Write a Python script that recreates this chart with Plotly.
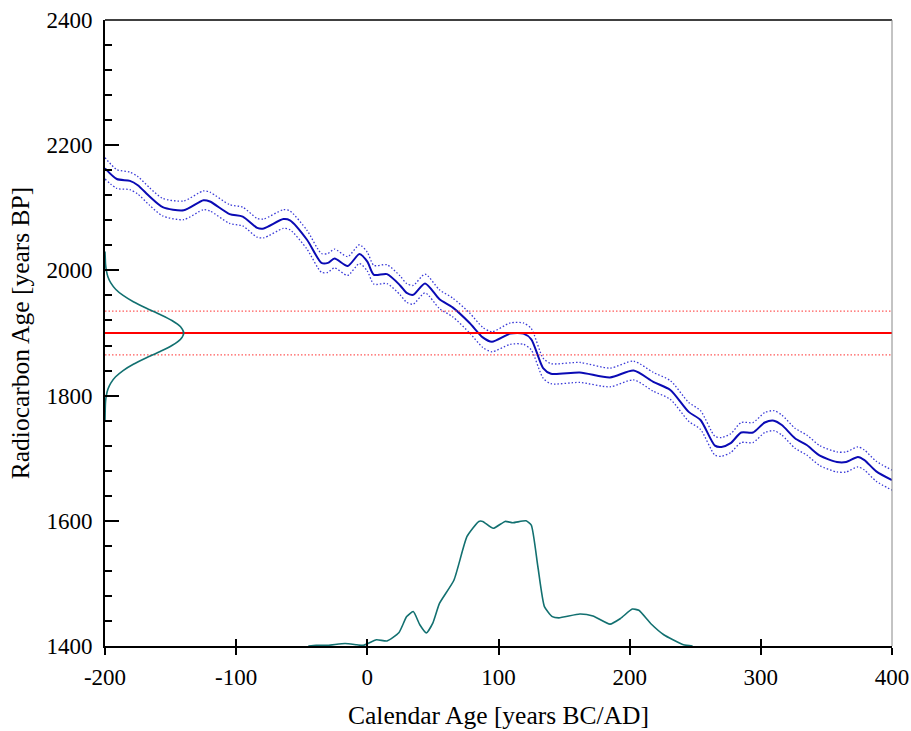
import plotly.graph_objects as go

# Calibration curve (calendar year, radiocarbon age, 1-sigma)
curve_x = [-200, -191, -181, -175, -166, -156, -140, -125, -120, -105, -95, -84, -79, -64, -59,
           -46, -35, -30, -25, -15, -6, 0, 5, 15, 25, 30, 35, 44, 55, 65, 78, 88, 95, 109, 119,
           125, 134, 140, 162, 185, 203, 218, 231, 245, 254, 265, 270, 277, 285, 294, 303, 310,
           316, 326, 335, 345, 358, 365, 374, 379, 388, 400]
curve_y = [2163, 2146, 2143, 2136, 2118, 2101, 2096, 2112, 2110, 2090, 2086, 2068, 2067, 2082, 2080,
           2049, 2012, 2012, 2019, 2007, 2026, 2014, 1993, 1994, 1976, 1964, 1961, 1979, 1954, 1941,
           1916, 1893, 1886, 1899, 1899, 1890, 1844, 1835, 1837, 1829, 1840, 1822, 1809, 1774, 1761,
           1720, 1718, 1724, 1741, 1741, 1757, 1760, 1753, 1732, 1721, 1704, 1694, 1694, 1702, 1697,
           1679, 1665]
curve_sigma = [17, 15, 14, 14, 14, 14, 15, 15, 15, 15, 15, 15, 15, 15, 15,
               15, 15, 15, 15, 15, 15, 15, 15, 15, 15, 15, 15, 15, 15, 15,
               16, 16, 16, 17, 17, 17, 16, 16, 16, 15, 15, 15, 15, 15, 15,
               15, 15, 15, 16, 16, 16, 16, 16, 16, 16, 16, 16, 16, 16, 16,
               16, 16]

# Measured radiocarbon date
c14_age = 1900
c14_err = 35

# Measured date probability (plotted along the y axis), width in calendar years
gauss_y = [1760, 1770, 1780, 1790, 1800, 1810, 1820, 1830, 1840, 1850, 1860, 1870, 1880, 1890,
           1900, 1910, 1920, 1930, 1940, 1950, 1960, 1970, 1980, 1990, 2000, 2010, 2020, 2030]
gauss_w = [0.0, 0.1, 0.2, 0.4, 1.0, 2.2, 4.4, 8.1, 13.8, 21.6, 31.2, 41.6, 51.0, 57.6,
           60.0, 57.6, 51.0, 41.6, 31.2, 21.6, 13.8, 8.1, 4.4, 2.2, 1.0, 0.4, 0.2, 0.0]

# Calibrated probability distribution (calendar year, height in radiocarbon years above base)
cal_x = [-45, -39, -30, -17, -8, -3, 7, 15, 24, 30, 35, 40, 45, 50, 55, 66, 76, 85, 88, 96, 105,
         111, 121, 125, 130, 135, 141, 146, 162, 172, 185, 193, 202, 207, 216, 226, 233, 241, 248]
cal_h = [0, 1, 1, 4, 2, 1, 10, 8, 21, 47, 55, 34, 21, 37, 68, 105, 175, 199, 199, 188, 199,
         197, 200, 193, 127, 63, 47, 45, 51, 48, 35, 44, 59, 57, 36, 18, 10, 2, 0]
cal_base = 1400

# Axis ticks
x_ticks = [-200, -100, 0, 100, 200, 300, 400]
x_tick_labels = ["-200", "-100", "0", "100", "200", "300", "400"]
y_ticks = [1400, 1600, 1800, 2000, 2200, 2400]
y_tick_labels = ["1400", "1600", "1800", "2000", "2200", "2400"]

x_range = [-200, 400]
y_range = [1400, 2400]

BLUE = "#0a0ab4"
BLUE_LIGHT = "#3a3ad8"
TEAL = "#127070"
RED = "#ff0000"
RED_LIGHT = "#ff5a5a"
FONT = "Liberation Serif"
FINE_DOT = "1.5px,2px"

fig = go.Figure()

upper = [y + s for y, s in zip(curve_y, curve_sigma)]
lower = [y - s for y, s in zip(curve_y, curve_sigma)]

fig.add_trace(go.Scatter(x=curve_x, y=upper, mode="lines",
                         line=dict(color=BLUE_LIGHT, width=1.3, dash=FINE_DOT, shape="spline", smoothing=0.7),
                         hoverinfo="skip", showlegend=False))
fig.add_trace(go.Scatter(x=curve_x, y=lower, mode="lines",
                         line=dict(color=BLUE_LIGHT, width=1.3, dash=FINE_DOT, shape="spline", smoothing=0.7),
                         hoverinfo="skip", showlegend=False))
fig.add_trace(go.Scatter(x=curve_x, y=curve_y, mode="lines",
                         line=dict(color=BLUE, width=2, shape="spline", smoothing=0.7),
                         showlegend=False))

# measured date lines
fig.add_trace(go.Scatter(x=x_range, y=[c14_age + c14_err] * 2, mode="lines",
                         line=dict(color=RED_LIGHT, width=1.3, dash=FINE_DOT), showlegend=False))
fig.add_trace(go.Scatter(x=x_range, y=[c14_age - c14_err] * 2, mode="lines",
                         line=dict(color=RED_LIGHT, width=1.3, dash=FINE_DOT), showlegend=False))
fig.add_trace(go.Scatter(x=x_range, y=[c14_age] * 2, mode="lines",
                         line=dict(color=RED, width=2), showlegend=False))

# gaussian on y axis
fig.add_trace(go.Scatter(x=[x_range[0] + w for w in gauss_w], y=gauss_y, mode="lines",
                         line=dict(color=TEAL, width=1.6, shape="spline", smoothing=0.8),
                         showlegend=False))

# calibrated distribution
fig.add_trace(go.Scatter(x=cal_x, y=[cal_base + h for h in cal_h], mode="lines",
                         line=dict(color=TEAL, width=1.6, shape="spline", smoothing=0.5),
                         showlegend=False))

# invisible trace for the overlay axis (inside x ticks)
fig.add_trace(go.Scatter(x=x_range, y=y_range, mode="markers", marker=dict(opacity=0),
                         xaxis="x2", hoverinfo="skip", showlegend=False))

fig.update_layout(
    width=911, height=731,
    margin=dict(l=105, r=19, t=20, b=85),
    paper_bgcolor="white", plot_bgcolor="white",
    font=dict(family=FONT, size=23, color="black"),
    xaxis=dict(range=x_range, tickvals=x_ticks, ticktext=x_tick_labels, automargin=False,
               showgrid=False, zeroline=False,
               showline=True, linecolor="black", linewidth=2,
               ticks="outside", ticklen=7, tickwidth=2, tickcolor="black",
               ticklabelstandoff=2,
               title=dict(text="Calendar Age [years BC/AD]", font=dict(size=25.5), standoff=18)),
    xaxis2=dict(range=x_range, tickvals=x_ticks, overlaying="x", side="bottom", automargin=False,
                showgrid=False, zeroline=False, showline=False, showticklabels=False,
                ticks="inside", ticklen=7, tickwidth=2, tickcolor="black"),
    yaxis=dict(range=y_range, tickvals=y_ticks, ticktext=y_tick_labels, automargin=False,
               showgrid=False, zeroline=False,
               showline=True, linecolor="black", linewidth=2,
               ticks="inside", ticklen=14, tickwidth=2, tickcolor="black",
               minor=dict(dtick=40, tick0=1400, ticks="inside", ticklen=7, tickwidth=2,
                          tickcolor="black"),
               ticklabelstandoff=6,
               title=dict(text="Radiocarbon Age [years BP]", font=dict(size=25.5), standoff=9)),
    shapes=[
        dict(type="line", xref="paper", yref="paper", x0=0, x1=1, y0=1, y1=1,
             line=dict(color="black", width=1.5)),
        dict(type="line", xref="paper", yref="paper", x0=1, x1=1, y0=0, y1=1,
             line=dict(color="#888888", width=1)),
    ],
)

fig.write_html(
    "out.html",
    config={"displayModeBar": False},
    post_script="document.body.style.margin='0';document.body.style.overflow='hidden';",
)
